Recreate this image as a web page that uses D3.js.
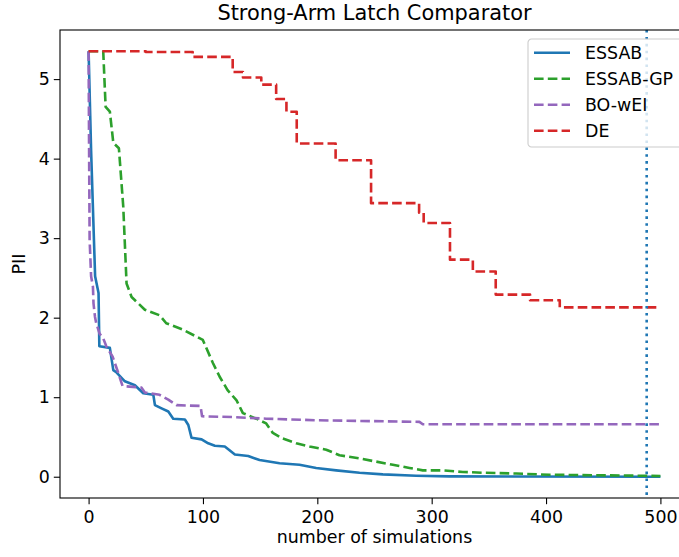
<!DOCTYPE html>
<html>
<head>
<meta charset="utf-8">
<script src="https://cdn.jsdelivr.net/npm/d3@7"></script>
<style>
  body { margin: 0; background: #fff; }
  svg { display: block; font-family: "DejaVu Sans", sans-serif; }
</style>
</head>
<body>
<div id="chart"></div>
<script>
// Data: [number of simulations, PII]
const essab = [
    [0, 5.35], [2.2, 4.10], [5.7, 2.52], [8.7, 2.31], [9.4, 1.64], [18.6, 1.62],
    [21.6, 1.34], [24.5, 1.31], [31.7, 1.20], [40.5, 1.15], [47.8, 1.05], [56.6, 1.03],
    [58.0, 0.90], [63.8, 0.86], [69.7, 0.82], [74.0, 0.73], [84.2, 0.72], [87.2, 0.65],
    [90.0, 0.49], [98.8, 0.47], [104.6, 0.42], [110.4, 0.39], [119.1, 0.38], [127.9, 0.28],
    [139.6, 0.26], [149.5, 0.21], [167.0, 0.17], [184.4, 0.15], [199.0, 0.11], [216.5, 0.08],
    [236.9, 0.05], [257.3, 0.03], [286.4, 0.013], [315.6, 0.005], [500, 0.0]
];
const essabGP = [
    [0, 5.35], [12.8, 5.35], [14.9, 4.65], [18.6, 4.59], [21.6, 4.20], [26.5, 4.13],
    [30.3, 3.40], [33.2, 2.43], [37.6, 2.26], [43.4, 2.18], [49.2, 2.10], [62.1, 2.03],
    [67.9, 1.93], [82.4, 1.85], [99.9, 1.72], [108.7, 1.43], [114.5, 1.26], [121.5, 1.09],
    [129.4, 0.96], [134.9, 0.80], [146.6, 0.73], [155.3, 0.67], [161.1, 0.55], [169.8, 0.48],
    [181.6, 0.42], [193.2, 0.38], [207.8, 0.34], [219.4, 0.27], [236.9, 0.23], [251.5, 0.19],
    [266.0, 0.15], [280.6, 0.11], [292.2, 0.08], [309.7, 0.08], [327.2, 0.06], [344.7, 0.05],
    [373.9, 0.04], [403.0, 0.025], [500, 0.01]
];
const boWEI = [
    [0, 5.35], [0.4, 4.20], [0.9, 2.98], [2.2, 2.52], [3.8, 2.39], [4.3, 2.18], [5.6, 2.01],
    [6.7, 1.93], [9.6, 1.80], [12.8, 1.74], [15.5, 1.64], [21.0, 1.51], [25.6, 1.32],
    [29.7, 1.14], [38.7, 1.13], [46.3, 1.12], [49.2, 1.06], [62.1, 1.03], [69.7, 0.97],
    [77.0, 0.90], [97.9, 0.89], [99.2, 0.76], [125.9, 0.75], [155.3, 0.73], [199.0, 0.71],
    [289.3, 0.69], [292.2, 0.66], [500, 0.66]
];
// DE is a step curve: value changes at these points
const de = [
    [0, 5.35], [50, 5.34], [91, 5.28], [126, 5.09], [135, 5.02], [151, 4.93], [164, 4.75],
    [173, 4.59], [182, 4.19], [216, 3.98], [247, 3.44], [289, 3.32], [293, 3.19], [316, 2.73],
    [336, 2.58], [356, 2.29], [386, 2.22], [412, 2.13], [500, 2.13]
];
const markerX = 488;

const xTicks = [0, 100, 200, 300, 400, 500];
const yTicks = [0, 1, 2, 3, 4, 5];

const seriesNames = ["ESSAB", "ESSAB-GP", "BO-wEI", "DE"];
const seriesColors = ["#1f77b4", "#2ca02c", "#9467bd", "#d62728"];

// Layout
const W = 679, H = 557;
const margin = { top: 30, right: -10, bottom: 59, left: 60 };
const width = W - margin.left - margin.right;
const height = H - margin.top - margin.bottom;
const lw = 2.6;
const dash = "9.6,4.2";

const svg = d3.select("#chart")
    .append("svg")
    .attr("width", W)
    .attr("height", H);

const g = svg.append("g")
    .attr("transform", `translate(${margin.left},${margin.top})`);

// Scales with matplotlib-like 5% margins
const allPts = essab.concat(essabGP, boWEI, de);
const [x0, x1] = d3.extent(allPts, d => d[0]);
const [y0, y1] = d3.extent(allPts, d => d[1]);
const xPad = (x1 - x0) * 0.05, yPad = (y1 - y0) * 0.05;

const x = d3.scaleLinear().domain([x0 - xPad, x1 + xPad]).range([0, width]);
const y = d3.scaleLinear().domain([y0 - yPad, y1 + yPad]).range([height, 0]);

// Axes
const xAxis = g.append("g")
    .attr("transform", `translate(0,${height})`)
    .call(d3.axisBottom(x).tickValues(xTicks).tickFormat(d3.format("d"))
        .tickSize(6.2).tickPadding(6.3));
const yAxis = g.append("g")
    .call(d3.axisLeft(y).tickValues(yTicks).tickFormat(d3.format("d"))
        .tickSize(6.2).tickPadding(4));

[xAxis, yAxis].forEach(a => {
    a.select(".domain").remove();
    a.selectAll(".tick line").attr("stroke", "#000").attr("stroke-width", 1.1);
    a.selectAll(".tick text")
        .attr("fill", "#000")
        .style("font-size", "17.4px")
        .style("font-family", "DejaVu Sans");
});

// Lines
g.append("clipPath").attr("id", "clip")
    .append("rect").attr("width", width).attr("height", height);
const plot = g.append("g").attr("clip-path", "url(#clip)");

const line = d3.line().x(d => x(d[0])).y(d => y(d[1]));
const stepLine = d3.line().x(d => x(d[0])).y(d => y(d[1])).curve(d3.curveStepAfter);

const series = [essab, essabGP, boWEI, de];
series.forEach((data, i) => {
    plot.append("path")
        .datum(data)
        .attr("fill", "none")
        .attr("stroke", seriesColors[i])
        .attr("stroke-width", lw)
        .attr("stroke-linejoin", "round")
        .attr("stroke-dasharray", i === 0 ? null : dash)
        .attr("d", i === 3 ? stepLine : line);
});

// Vertical dotted marker
plot.append("line")
    .attr("x1", x(markerX)).attr("x2", x(markerX))
    .attr("y1", 0).attr("y2", height)
    .attr("stroke", "#1f77b4")
    .attr("stroke-width", lw)
    .attr("stroke-dasharray", "2.6,4.3");

// Frame
g.append("rect")
    .attr("width", width).attr("height", height)
    .attr("fill", "none")
    .attr("stroke", "#000")
    .attr("stroke-width", 1.1);

// Legend
const legend = g.append("g")
    .attr("transform", `translate(${528 - margin.left},${39 - margin.top})`);

legend.append("rect")
    .attr("width", 160).attr("height", 108)
    .attr("rx", 3.5)
    .attr("fill", "#fff").attr("fill-opacity", 0.8)
    .attr("stroke", "#cccccc").attr("stroke-width", 1.1);

seriesNames.forEach((name, i) => {
    const row = legend.append("g")
        .attr("transform", `translate(0, ${13.7 + i * 26})`);
    row.append("line")
        .attr("x1", 6).attr("x2", 42)
        .attr("stroke", seriesColors[i])
        .attr("stroke-width", lw)
        .attr("stroke-dasharray", i === 0 ? null : dash);
    row.append("text")
        .attr("x", 57)
        .attr("y", 6.2)
        .style("font-size", "17.4px")
        .text(name);
});

// Labels
svg.append("text")
    .attr("text-anchor", "middle")
    .attr("x", margin.left + width / 2)
    .attr("y", 20)
    .style("font-size", "20.9px")
    .text("Strong-Arm Latch Comparator");

svg.append("text")
    .attr("text-anchor", "middle")
    .attr("x", margin.left + width / 2)
    .attr("y", 543)
    .style("font-size", "17.4px")
    .text("number of simulations");

svg.append("text")
    .attr("text-anchor", "middle")
    .attr("transform", `translate(25,${margin.top + height / 2}) rotate(-90)`)
    .style("font-size", "17.4px")
    .text("PII");
</script>
</body>
</html>
